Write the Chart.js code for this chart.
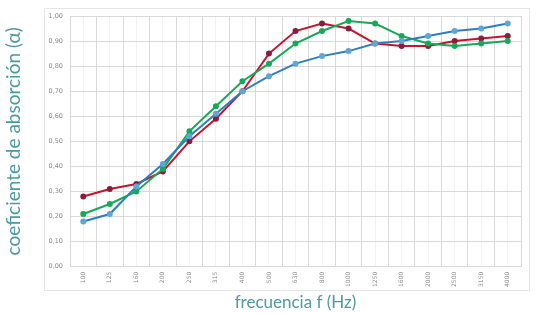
<!DOCTYPE html>
<html><head><meta charset="utf-8">
<script src="https://cdn.jsdelivr.net/npm/chart.js@4"></script>
<style>html,body{margin:0;padding:0;background:#fff}#wrap{width:538px;height:313px}</style>
</head><body><div id="wrap"><canvas id="c" width="538" height="313"></canvas></div>
<script>
const categories = ['100','125','160','200','250','315','400','500','630','800','1000','1250','1600','2000','2500','3150','4000'];
const blueValues  = [0.18,0.21,0.32,0.41,0.52,0.61,0.70,0.76,0.81,0.84,0.86,0.89,0.90,0.92,0.94,0.95,0.97];
const greenValues = [0.21,0.25,0.30,0.39,0.54,0.64,0.74,0.81,0.89,0.94,0.98,0.97,0.92,0.89,0.88,0.89,0.90];
const redValues   = [0.28,0.31,0.33,0.38,0.50,0.59,0.70,0.85,0.94,0.97,0.95,0.89,0.88,0.88,0.90,0.91,0.92];
const yTitle = 'coeficiente de absorción (α)';
const xTitle = 'frecuencia f (Hz)';

const boxPlugin = {
  id:'box',
  beforeDraw(chart){
    const {ctx} = chart;
    ctx.save();
    ctx.strokeStyle = '#e6e6e6';
    ctx.lineWidth = 1;
    ctx.strokeRect(44.5, 8.5, 485, 282);
    ctx.restore();
  }
};

new Chart(document.getElementById('c'), {
  type:'line',
  data:{
    labels: categories,
    datasets:[
      {data: blueValues, borderColor:'#2b7ec1', backgroundColor:'#5fa6d6', pointBackgroundColor:'#5fa6d6', pointBorderColor:'#5fa6d6', borderWidth:2, pointRadius:2, tension:0},
      {data: greenValues, borderColor:'#17a957', backgroundColor:'#17a957', pointBackgroundColor:'#17a957', pointBorderColor:'#17a957', borderWidth:2, pointRadius:2, tension:0},
      {data: redValues, borderColor:'#c8132b', backgroundColor:'#8a1d3e', pointBackgroundColor:'#8a1d3e', pointBorderColor:'#8a1d3e', borderWidth:2, pointRadius:2, tension:0}
    ]
  },
  options:{
    responsive:false, animation:false,
    layout:{padding:{top:16, right:17, left:2, bottom:0}},
    plugins:{legend:{display:false}, tooltip:{enabled:false}},
    scales:{
      x:{
        offset:true,
        grid:{color:'#d9d9d9', offset:true, drawTicks:false},
        border:{color:'#d9d9d9'},
        ticks:{color:'#8a8a8a', font:{family:'DejaVu Sans', size:6}, minRotation:90, maxRotation:90, padding:5},
        title:{display:true, text:xTitle, color:'#4b9aa0', font:{family:'Lato', size:17}, padding:{top:6, bottom:0}},
        afterFit(s){ s.height = 313 - 266.7; }
      },
      x2:{
        type:'category', labels: categories, display:true, offset:true,
        grid:{color:'#f2f2f2', offset:false, drawTicks:false},
        ticks:{display:false}, border:{display:false},
        afterFit(s){ s.height = 0; }
      },
      y:{
        min:0, max:1,
        ticks:{stepSize:0.1, color:'#8a8a8a', font:{family:'DejaVu Sans', size:6.5}, padding:7,
          callback:v=>v.toFixed(2).replace('.',',')},
        grid:{color:'#d9d9d9', drawTicks:false},
        border:{color:'#d9d9d9'},
        title:{display:true, text:yTitle, color:'#4b9aa0', font:{family:'Lato', size:19}, padding:{top:0,bottom:12}},
        afterFit(s){ s.width = 68; }
      }
    }
  },
  plugins:[boxPlugin]
});
</script></body></html>
